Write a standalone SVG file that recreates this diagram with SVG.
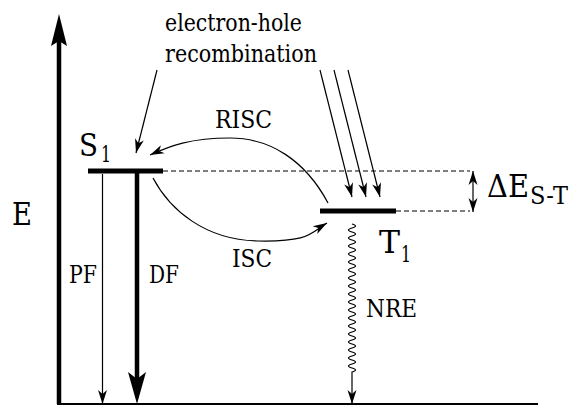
<svg xmlns="http://www.w3.org/2000/svg" width="570" height="406" viewBox="0 0 570 406">
<style>
text{font-family:"DejaVu Serif","Liberation Serif",serif;fill:#000}
.lbl{font-size:24px}
.big{font-size:32px}
.sub{font-size:22px}
.ln{fill:none;stroke:#000;stroke-width:1.2}
.dash{fill:none;stroke:#000;stroke-width:1.2;stroke-dasharray:5 3}
.lvl{stroke:#000;stroke-width:5}
.hd{fill:#000}
</style>
<defs>
<marker id="ah" markerUnits="userSpaceOnUse" viewBox="-15 -6 16 12" markerWidth="16" markerHeight="12" refX="0" refY="0" orient="auto-start-reverse"><path d="M0,0 L-14,-4.5 L-10,0 L-14,4.5 Z" fill="#000"/></marker>
</defs>
<rect width="570" height="406" fill="#fff"/>
<g id="axis">
<line x1="59" y1="404" x2="59" y2="38" stroke="#000" stroke-width="4.5"/>
<path class="hd" d="M59,14 L51,46 L59,41 L67,46 Z"/>
<line x1="57" y1="404" x2="538" y2="404" stroke="#000" stroke-width="2"/>
<text x="12" y="225" class="big" textLength="20" lengthAdjust="spacingAndGlyphs">E</text>
</g>
<g id="S1">
<line x1="88" y1="171" x2="163" y2="171" class="lvl"/>
<text x="79" y="156" class="big" textLength="19" lengthAdjust="spacingAndGlyphs">S</text>
<text x="101" y="162" class="sub" textLength="10" lengthAdjust="spacingAndGlyphs">1</text>
</g>
<g id="T1">
<line x1="320" y1="211" x2="396" y2="211" class="lvl"/>
<text x="379" y="253" class="big" textLength="21" lengthAdjust="spacingAndGlyphs">T</text>
<text x="401" y="262" class="sub" textLength="10" lengthAdjust="spacingAndGlyphs">1</text>
</g>
<g id="DeltaE">
<text x="487" y="197" class="big" textLength="42" lengthAdjust="spacingAndGlyphs">ΔE</text>
<text x="530" y="204" class="lbl" textLength="38" lengthAdjust="spacingAndGlyphs">S-T</text>
</g>
<g id="labels">
<text x="165" y="31" class="lbl" textLength="137" lengthAdjust="spacingAndGlyphs">electron-hole</text>
<text x="165" y="62" class="lbl" textLength="152" lengthAdjust="spacingAndGlyphs">recombination</text>
<text x="215" y="128" class="lbl" textLength="57" lengthAdjust="spacingAndGlyphs">RISC</text>
<text x="232" y="267" class="lbl" textLength="40" lengthAdjust="spacingAndGlyphs">ISC</text>
<text x="69" y="283" class="lbl" textLength="28" lengthAdjust="spacingAndGlyphs">PF</text>
<text x="149" y="283" class="lbl" textLength="30" lengthAdjust="spacingAndGlyphs">DF</text>
<text x="366" y="317" class="lbl" textLength="51" lengthAdjust="spacingAndGlyphs">NRE</text>
</g>
<g id="connectors">
<path class="dash" d="M163,171 H470 M396,211 H470"/>
<line class="ln" x1="473" y1="171" x2="473" y2="212" stroke-width="1.6" marker-start="url(#ah)" marker-end="url(#ah)"/>
<line class="ln" x1="157" y1="70" x2="136" y2="153" marker-end="url(#ah)"/>
<line class="ln" x1="320" y1="70" x2="352" y2="197" marker-end="url(#ah)"/>
<line class="ln" x1="334" y1="70" x2="366" y2="197" marker-end="url(#ah)"/>
<line class="ln" x1="348" y1="70" x2="380" y2="197" marker-end="url(#ah)"/>
<path class="ln" d="M328,203 C305,160 270,138 230,138 S170,146 150,155" marker-end="url(#ah)"/>
<path class="ln" d="M153,178 C170,210 205,240 258,241 S310,233 327,223" marker-end="url(#ah)"/>
<line class="ln" x1="102.5" y1="174" x2="102.5" y2="404" marker-end="url(#ah)"/>
<line x1="137" y1="173" x2="137" y2="385" stroke="#000" stroke-width="4.5"/>
<path class="hd" d="M137,404 L128,372 L137,379 L146,372 Z"/>
<path class="ln" d="M352,224 q7,2 0,4 t0,4 t0,4 t0,4 t0,4 t0,4 t0,4 t0,4 t0,4 t0,4 t0,4 t0,4 t0,4 t0,4 t0,4 t0,4 t0,4 t0,4 t0,4 t0,4 t0,4 t0,4 t0,4 t0,4 t0,4 t0,4 t0,4 t0,4 t0,4 t0,4 t0,4 t0,4 t0,4 t0,4 t0,4 t0,4 t0,4 L352,404" marker-end="url(#ah)"/>
</g>
</svg>
